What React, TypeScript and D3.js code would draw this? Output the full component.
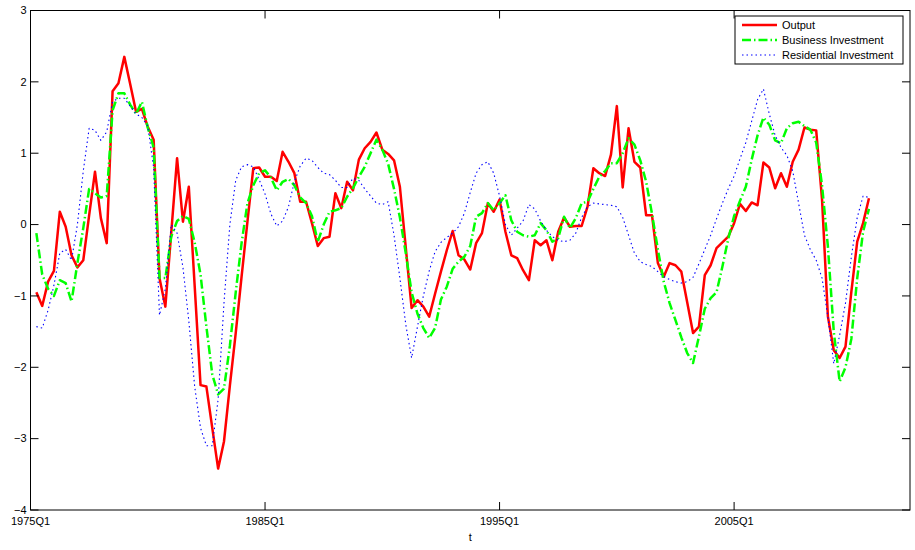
import * as d3 from "d3";

// Detrended series, one value per quarter, first observation 1975Q2
const firstObs = "1975Q2";

const output = [
  -0.95, -1.14, -0.8, // 1975
  -0.65, 0.18, -0.03, -0.43,
  -0.6, -0.5, 0.13, 0.74,
  0.09, -0.26, 1.87, 1.98,
  2.35, 1.97, 1.58, 1.62,
  1.37, 1.19, -0.75, -1.15, // 1980
  -0.12, 0.93, 0.04, 0.53,
  -0.86, -2.25, -2.27, -2.85,
  -3.42, -3.04, -2.26, -1.52,
  -0.73, 0.04, 0.79, 0.8,
  0.67, 0.67, 0.61, 1.02, // 1985
  0.88, 0.72, 0.32, 0.32,
  0.02, -0.3, -0.19, -0.17,
  0.44, 0.23, 0.6, 0.48,
  0.91, 1.07, 1.16, 1.29,
  1.05, 0.99, 0.9, 0.53, // 1990
  -0.32, -1.17, -1.06, -1.15,
  -1.29, -0.97, -0.66, -0.36,
  -0.09, -0.43, -0.49, -0.63,
  -0.26, -0.12, 0.3, 0.18,
  0.35, -0.1, -0.43, -0.47, // 1995
  -0.64, -0.78, -0.22, -0.29,
  -0.22, -0.5, -0.1, 0.1,
  -0.03, -0.02, -0.02, 0.25,
  0.79, 0.72, 0.68, 0.98,
  1.66, 0.52, 1.35, 0.88, // 2000
  0.8, 0.13, 0.13, -0.54,
  -0.73, -0.54, -0.57, -0.66,
  -1.09, -1.52, -1.43, -0.71,
  -0.57, -0.33, -0.25, -0.17,
  0.02, 0.29, 0.19, 0.31, // 2005
  0.27, 0.87, 0.8, 0.51,
  0.72, 0.53, 0.88, 1.05,
  1.36, 1.33, 1.32, 0.35,
  -1.29, -1.76, -1.87, -1.71,
  -0.94, -0.24, 0.02, 0.37, // 2010
];

const businessInvestment = [
  -0.12, -0.7, -0.9,
  -1.0, -0.78, -0.82, -1.08,
  -0.54, -0.05, 0.5, 0.44,
  0.38, 0.4, 1.6, 1.84,
  1.84, 1.68, 1.55, 1.72,
  1.36, 1.08, -0.75, -0.75,
  -0.17, 0.05, 0.12, 0.08,
  -0.25, -0.7, -1.43, -2.1,
  -2.38, -2.3, -1.7, -0.95,
  -0.26, 0.3, 0.55, 0.72,
  0.76, 0.66, 0.48, 0.6,
  0.64, 0.55, 0.38, 0.3,
  0.12, -0.24, 0.0, 0.18,
  0.2, 0.23, 0.39, 0.51,
  0.67, 0.81, 1.0, 1.19,
  1.05, 0.85, 0.5, 0.1,
  -0.4, -0.95, -1.25, -1.45,
  -1.59, -1.45, -1.05, -0.87,
  -0.62, -0.52, -0.45, -0.3,
  0.11, 0.16, 0.3, 0.2,
  0.3, 0.41, 0.06, -0.1,
  -0.15, -0.17, -0.15, 0.02,
  -0.08, -0.24, -0.19, 0.11,
  -0.05, 0.09, 0.3, 0.32,
  0.5, 0.67, 0.75, 0.86,
  0.86, 1.0, 1.21, 1.12,
  0.9, 0.6, 0.15, -0.35,
  -0.8, -1.1, -1.34, -1.58,
  -1.8, -1.94, -1.57, -1.18,
  -1.03, -0.95, -0.59, -0.2,
  0.12, 0.33, 0.53, 0.91,
  1.25, 1.5, 1.4, 1.18,
  1.14, 1.35, 1.42, 1.44,
  1.38, 1.33, 1.15, 0.55,
  -0.31, -1.5, -2.2, -2.0,
  -1.6, -0.75, -0.1, 0.22,
];

const residentialInvestment = [
  -1.43, -1.45, -1.2,
  -0.85, -0.4, -0.35, -0.5,
  0.0, 0.75, 1.35, 1.32,
  1.18, 1.3, 1.72, 1.77,
  1.77, 1.66, 1.55, 1.5,
  1.38, 0.8, -1.27, -0.9,
  0.0, -0.12, -0.6, -1.35,
  -2.27, -2.85, -3.1, -3.1,
  -2.45, -1.1, 0.0, 0.62,
  0.81, 0.84, 0.81, 0.63,
  0.43, 0.15, -0.02, 0.05,
  0.25, 0.6, 0.82, 0.93,
  0.9, 0.8, 0.72, 0.7,
  0.62, 0.52, 0.52, 0.65,
  0.62, 0.5, 0.4, 0.3,
  0.28, 0.32, -0.15, -0.75,
  -1.4, -1.87, -1.43, -1.0,
  -0.65, -0.38, -0.25, -0.18,
  -0.12, -0.03, 0.16, 0.45,
  0.72, 0.84, 0.88, 0.72,
  0.4, 0.0, -0.15, -0.05,
  0.05, 0.28, 0.22, 0.05,
  -0.08, -0.17, -0.22, -0.24,
  -0.22, -0.12, 0.1, 0.25,
  0.3, 0.29, 0.28, 0.27,
  0.25, 0.1, -0.15, -0.4,
  -0.52, -0.56, -0.59, -0.66,
  -0.73, -0.77, -0.8, -0.82,
  -0.8, -0.74, -0.55, -0.35,
  -0.15, 0.08, 0.3, 0.5,
  0.68, 0.92, 1.15, 1.45,
  1.75, 1.9, 1.55, 1.25,
  1.08, 0.97, 0.75, 0.3,
  -0.15, -0.35, -0.5, -0.75,
  -1.3, -1.95, -1.55, -1.1,
  -0.45, 0.1, 0.4, 0.38,
];

const seriesNames = ["Output", "Business Investment", "Residential Investment"];
const xTickLabels = ["1975Q1", "1985Q1", "1995Q1", "2005Q1"];
const yTicks = [-4, -3, -2, -1, 0, 1, 2, 3];
const xLabel = "t";

// quarter index counted from 1975Q1
const quarterIndex = (label: string) => {
  const [yr, q] = label.split("Q").map(Number);
  return (yr - 1975) * 4 + (q - 1);
};

const W = 915;
const H = 550;
const FONT = "'Liberation Sans', Arial, Helvetica, sans-serif";

export default function App() {
  const left = 30.5;
  const right = 910;
  const top = 10.5;
  const bottom = 510;
  const tickLen = 8;

  const x = d3.scaleLinear().domain([0, 150]).range([left, right]);
  const y = d3.scaleLinear().domain([-4, 3]).range([bottom, top]);
  const fmt = d3.format("d");

  const start = quarterIndex(firstObs);
  const line = d3
    .line<number>()
    .x((_d, i) => x(start + i))
    .y((d) => y(d));

  const series = [
    { name: seriesNames[0], values: output, color: "#ff0000", width: 2.5, dash: undefined },
    { name: seriesNames[1], values: businessInvestment, color: "#00ff00", width: 2.5, dash: "9,3,1.5,3" },
    { name: seriesNames[2], values: residentialInvestment, color: "#0000ff", width: 1.1, dash: "1.5,3" },
  ];

  // legend box
  const lg = { x: 735, y: 16, w: 168, h: 48 };

  return (
    <div style={{ position: "absolute", left: 0, top: 0, background: "#fff" }}>
      <svg width={W} height={H} style={{ display: "block", fontFamily: FONT }}>
        <rect width={W} height={H} fill="#fff" />

        {/* data lines */}
        <g>
          {series.map((s) => (
            <path
              key={s.name}
              d={line(s.values) || ""}
              fill="none"
              stroke={s.color}
              strokeWidth={s.width}
              strokeDasharray={s.dash}
              strokeLinejoin="round"
            />
          ))}
        </g>

        {/* axes box */}
        <rect
          x={left}
          y={top}
          width={right - left}
          height={bottom - top}
          fill="none"
          stroke="#000"
          strokeWidth={1}
        />

        {/* y ticks */}
        {yTicks.map((t) => (
          <g key={"y" + t}>
            <line x1={left} x2={left + tickLen} y1={y(t)} y2={y(t)} stroke="#000" />
            <line x1={right - tickLen} x2={right} y1={y(t)} y2={y(t)} stroke="#000" />
            <text
              x={left - 4}
              y={y(t)}
              dy="0.35em"
              textAnchor="end"
              fontSize={11}
              fill="#000"
            >
              {fmt(t)}
            </text>
          </g>
        ))}

        {/* x ticks */}
        {xTickLabels.map((lab) => {
          const px = x(quarterIndex(lab));
          return (
            <g key={lab}>
              <line x1={px} x2={px} y1={bottom} y2={bottom - tickLen} stroke="#000" />
              <line x1={px} x2={px} y1={top} y2={top + tickLen} stroke="#000" />
              <text x={px} y={bottom + 15} textAnchor="middle" fontSize={11} fill="#000">
                {lab}
              </text>
            </g>
          );
        })}

        <text x={(left + right) / 2} y={541} textAnchor="middle" fontSize={11} fill="#000">
          {xLabel}
        </text>

        {/* legend */}
        <g>
          <rect x={lg.x} y={lg.y} width={lg.w} height={lg.h} fill="#fff" stroke="#000" strokeWidth={1} />
          {series.map((s, i) => {
            const ly = lg.y + 9 + i * 15;
            return (
              <g key={"lg" + s.name}>
                <line
                  x1={lg.x + 7}
                  x2={lg.x + 42}
                  y1={ly}
                  y2={ly}
                  stroke={s.color}
                  strokeWidth={s.width}
                  strokeDasharray={s.dash}
                />
                <text x={lg.x + 47} y={ly} dy="0.35em" fontSize={11} fill="#000">
                  {s.name}
                </text>
              </g>
            );
          })}
        </g>
      </svg>
    </div>
  );
}
